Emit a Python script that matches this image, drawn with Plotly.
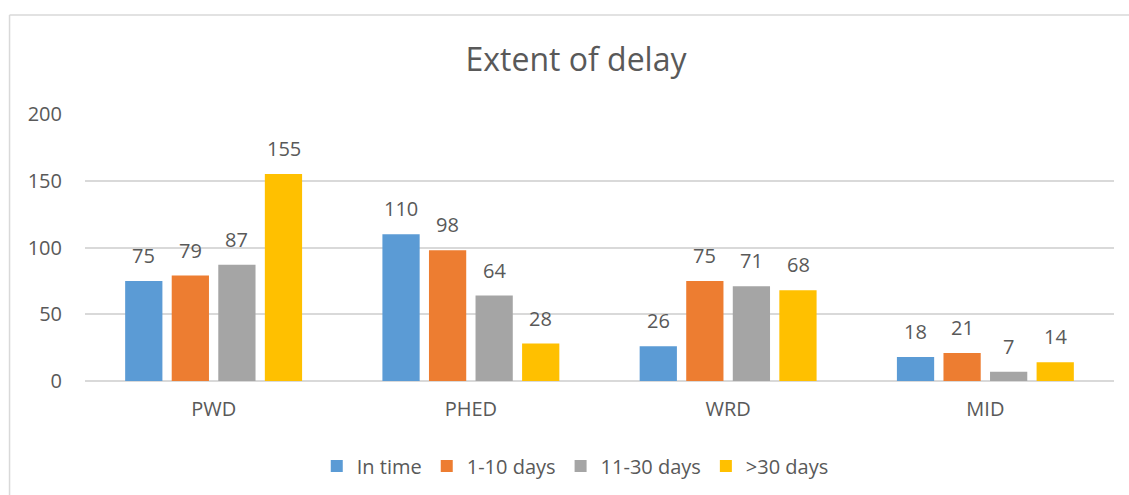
import plotly.graph_objects as go

categories = ["PWD", "PHED", "WRD", "MID"]
series_names = ["In time", "1-10 days", "11-30 days", ">30 days"]
in_time = [75, 110, 26, 18]
d1_10 = [79, 98, 75, 21]
d11_30 = [87, 64, 71, 7]
d30_plus = [155, 28, 68, 14]
colors = ["#5B9BD5", "#ED7D31", "#A5A5A5", "#FFC000"]

W, H = 1129, 495
L, R, T, B = 84.5, 15, 114, 114
pw = W - L - R
ph = H - T - B

def px_x(x):
    return (x - L) / pw

def px_y(y):
    return (H - B - y) / ph

FONT = "Open Sans"
TXT = "#595959"
FS = 20

BARGAP = 0.276
GROUPGAP = 0.2
cat_px = pw / len(categories)
slot_px = cat_px * (1 - BARGAP) / len(series_names)

fig = go.Figure()
annotations = []
all_series = [in_time, d1_10, d11_30, d30_plus]
for i, (name, vals, c) in enumerate(zip(series_names, all_series, colors)):
    fig.add_trace(go.Bar(
        x=categories, y=vals, name=name, marker=dict(color=c, line=dict(width=0)),
    ))
    for cat, v in zip(categories, vals):
        annotations.append(dict(
            x=cat, y=v, xref="x", yref="y", text=str(v), showarrow=False,
            xanchor="center", yanchor="bottom",
            xshift=(i - (len(series_names) - 1) / 2) * slot_px, yshift=10,
            font=dict(family=FONT, size=FS, color=TXT),
        ))

fig.update_layout(
    width=W, height=H,
    margin=dict(l=L, r=R, t=T, b=B, autoexpand=False),
    paper_bgcolor="white", plot_bgcolor="white",
    barmode="group", bargap=BARGAP, bargroupgap=GROUPGAP,
    title=dict(text="Extent of delay", x=576 / W, xref="container", xanchor="center",
               y=1 - 60 / H, yanchor="middle",
               font=dict(family=FONT, size=32, color=TXT)),
    font=dict(family=FONT, color=TXT),
    showlegend=True,
    legend=dict(orientation="h", x=px_x(575), xanchor="center", y=px_y(466), yanchor="middle",
                font=dict(family=FONT, size=FS, color=TXT), traceorder="normal",
                itemwidth=30, itemsizing="constant"),
    xaxis=dict(showgrid=False, showline=False, ticks="", tickfont=dict(family=FONT, size=FS, color=TXT),
               ticklabelstandoff=14),
    yaxis=dict(range=[0, 200], dtick=50, showgrid=True, gridcolor="#D9D9D9", gridwidth=1.5,
               zeroline=True, zerolinecolor="#D9D9D9", zerolinewidth=1.5, showline=False, ticks="",
               tickfont=dict(family=FONT, size=FS, color=TXT), ticklabelstandoff=22),
    annotations=annotations,
    shapes=[
        dict(type="line", xref="paper", yref="paper", x0=px_x(9), x1=px_x(9), y0=px_y(15), y1=px_y(H + 5),
             line=dict(color="#D9D9D9", width=1.5)),
        dict(type="line", xref="paper", yref="paper", x0=px_x(9), x1=px_x(W + 5), y0=px_y(15), y1=px_y(15),
             line=dict(color="#D9D9D9", width=1.5)),
    ],
)

fig.write_html("out.html", config={"displayModeBar": False},
               post_script="document.body.style.margin='0';document.body.style.overflow='hidden';")
